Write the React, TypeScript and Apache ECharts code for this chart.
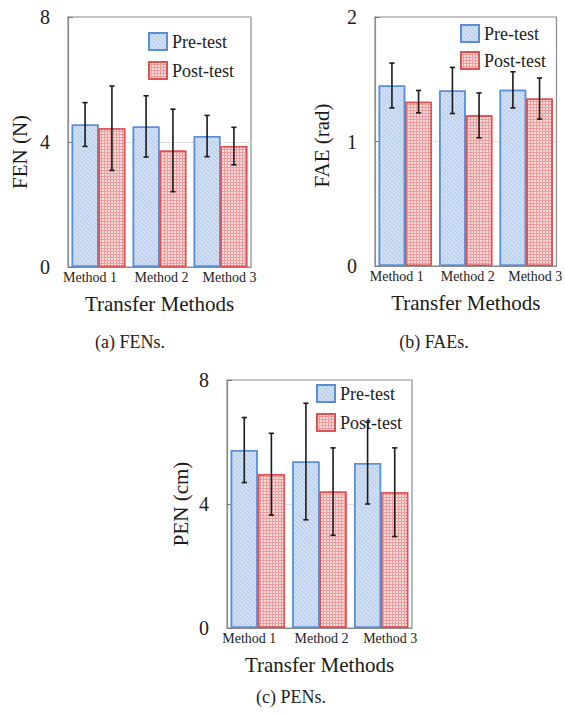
import React, { useEffect, useRef } from "react";
import * as echarts from "echarts";

const categories = ["Method 1", "Method 2", "Method 3"];
const seriesNames = ["Pre-test", "Post-test"];

const fenPre = [4.56, 4.5, 4.19];
const fenPreSd = [0.7, 0.98, 0.66];
const fenPost = [4.44, 3.73, 3.87];
const fenPostSd = [1.35, 1.32, 0.6];

const faePre = [1.45, 1.41, 1.415];
const faePreSd = [0.18, 0.185, 0.145];
const faePost = [1.32, 1.21, 1.345];
const faePostSd = [0.09, 0.18, 0.165];

const penPre = [5.74, 5.37, 5.32];
const penPreSd = [1.05, 1.88, 1.32];
const penPost = [4.96, 4.4, 4.38];
const penPostSd = [1.32, 1.41, 1.43];

const yTitles = ["FEN (N)", "FAE (rad)", "PEN (cm)"];
const yMax = [8, 2, 8];
const yInterval = [4, 1, 4];
const xTitle = "Transfer Methods";
const captions = ["(a) FENs.", "(b) FAEs.", "(c) PENs."];

const FONT = "Liberation Serif";
const CAT_GAP = 0.12;

const preStyle = {
  color: "#d2e0f4",
  borderColor: "#5a8fd8",
  borderWidth: 1.5,
  decal: {
    symbol: "rect",
    symbolSize: 1,
    color: "rgba(160,188,228,0.6)",
    dashArrayX: [1, 0],
    dashArrayY: [1, 2],
    rotation: Math.PI / 4,
  },
};
const postStyle = {
  color: "#f09c9c",
  borderColor: "#e25050",
  borderWidth: 1.5,
  decal: {
    symbol: "rect",
    symbolSize: 1,
    color: "#fbdcdc",
    dashArrayX: [2, 1],
    dashArrayY: [2, 1],
    rotation: 0,
  },
};

export default function App() {
  const ref = useRef<HTMLDivElement>(null);
  useEffect(() => {
    if (!ref.current) return;
    const chart = echarts.init(ref.current, null, { renderer: "svg" });

    const grids = [
      { left: 68, top: 17, width: 183, height: 250 },
      { left: 375, top: 17, width: 183, height: 249 },
      { left: 227, top: 380, width: 185, height: 248 },
    ];
    const nameGaps = [38, 43, 36];
    const namePads = [
      [0, 20, 0, 0],
      [0, 8, 0, 0],
      [0, 0, 0, 0],
    ];
    const legendPos = [
      { left: 148, top: 32, itemGap: 10 },
      { left: 460, top: 24, itemGap: 8 },
      { left: 316, top: 384, itemGap: 10 },
    ];
    const captionPos = [
      [130, 342],
      [434, 342],
      [291, 697],
    ];
    const datasets = [
      [fenPre, fenPreSd, fenPost, fenPostSd],
      [faePre, faePreSd, faePost, faePostSd],
      [penPre, penPreSd, penPost, penPostSd],
    ];

    const labelRich = {
      m0: { fontSize: 14, fontFamily: FONT, color: "#222", padding: [0, 17, 0, 0] },
      m1: { fontSize: 14, fontFamily: FONT, color: "#222", padding: [0, 0, 0, 4] },
      m2: { fontSize: 14, fontFamily: FONT, color: "#222", padding: [0, 0, 0, 18] },
    };

    const makeErr = (gi: number, vals: number[], sds: number[], side: number) => ({
      type: "custom",
      xAxisIndex: gi,
      yAxisIndex: gi,
      z: 5,
      silent: true,
      data: vals.map((v, i) => [i, v, sds[i]]),
      renderItem: (params: any, api: any) => {
        const idx = api.value(0);
        const mean = api.value(1);
        const sd = api.value(2);
        const band = api.size([1, 0])[0];
        const bw = (band * (1 - CAT_GAP)) / 2;
        const cx = api.coord([idx, mean])[0] + (side * bw) / 2;
        const yTop = api.coord([idx, mean + sd])[1];
        const yBot = api.coord([idx, mean - sd])[1];
        const cap = 2.6;
        const st = { stroke: "#1a1a1a", lineWidth: 1.6 };
        return {
          type: "group",
          children: [
            { type: "line", shape: { x1: cx, y1: yTop, x2: cx, y2: yBot }, style: st },
            { type: "line", shape: { x1: cx - cap, y1: yTop, x2: cx + cap, y2: yTop }, style: st },
            { type: "line", shape: { x1: cx - cap, y1: yBot, x2: cx + cap, y2: yBot }, style: st },
          ],
        };
      },
    });

    const series: any[] = [];
    datasets.forEach((d, gi) => {
      series.push({
        name: seriesNames[0],
        type: "bar",
        xAxisIndex: gi,
        yAxisIndex: gi,
        data: d[0],
        barGap: "0%",
        barCategoryGap: CAT_GAP * 100 + "%",
        itemStyle: preStyle,
      });
      series.push({
        name: seriesNames[1],
        type: "bar",
        xAxisIndex: gi,
        yAxisIndex: gi,
        data: d[2],
        barGap: "0%",
        barCategoryGap: CAT_GAP * 100 + "%",
        itemStyle: postStyle,
      });
      series.push(makeErr(gi, d[0], d[1], -1));
      series.push(makeErr(gi, d[2], d[3], 1));
    });

    chart.setOption({
      animation: false,
      backgroundColor: "#ffffff",
      textStyle: { fontFamily: FONT },
      grid: grids.map((g) => ({
        ...g,
        show: true,
        borderColor: "#8c8c8c",
        borderWidth: 1.2,
        backgroundColor: "#fff",
        containLabel: false,
      })),
      xAxis: grids.map((_, gi) => ({
        type: "category",
        gridIndex: gi,
        data: categories,
        axisTick: { show: false },
        axisLine: { lineStyle: { color: "#8c8c8c", width: 1.2 } },
        axisLabel: {
          interval: 0,
          margin: 3,
          fontSize: 14,
          color: "#222",
          fontFamily: FONT,
          formatter: (v: string, i: number) => `{m${i}|${v}}`,
          rich: labelRich,
        },
        name: xTitle,
        nameLocation: "middle",
        nameGap: 26,
        nameTextStyle: { fontSize: 21, color: "#1a1a1a", fontFamily: FONT },
      })),
      yAxis: grids.map((_, gi) => ({
        type: "value",
        gridIndex: gi,
        min: 0,
        max: yMax[gi],
        interval: yInterval[gi],
        axisLine: { show: true, lineStyle: { color: "#8c8c8c", width: 1.2 } },
        axisTick: { show: true, inside: true, length: 5, lineStyle: { color: "#777" } },
        axisLabel: { margin: 18, fontSize: 20, color: "#222", fontFamily: FONT },
        splitLine: { show: true, lineStyle: { color: "#c4c4c4", type: "dotted", width: 1 } },
        name: yTitles[gi],
        nameLocation: "middle",
        nameGap: nameGaps[gi],
        nameTextStyle: {
          fontSize: 21,
          color: "#1a1a1a",
          fontFamily: FONT,
          padding: namePads[gi],
        },
      })),
      legend: legendPos.map((p) => ({
        data: seriesNames,
        orient: "vertical",
        left: p.left,
        top: p.top,
        padding: 0,
        itemGap: p.itemGap,
        itemWidth: 18,
        itemHeight: 17,
        selectedMode: false,
        icon: "rect",
        textStyle: { fontSize: 18, color: "#222", fontFamily: FONT },
      })),
      graphic: captions.map((c, i) => ({
        type: "text",
        x: captionPos[i][0],
        y: captionPos[i][1],
        style: {
          text: c,
          fill: "#222",
          fontSize: 18,
          fontFamily: FONT,
          textAlign: "center",
          textVerticalAlign: "middle",
        },
      })),
      series,
    });

    return () => chart.dispose();
  }, []);

  return (
    <div
      ref={ref}
      style={{ position: "fixed", left: 0, top: 0, width: 565, height: 715 }}
    />
  );
}
